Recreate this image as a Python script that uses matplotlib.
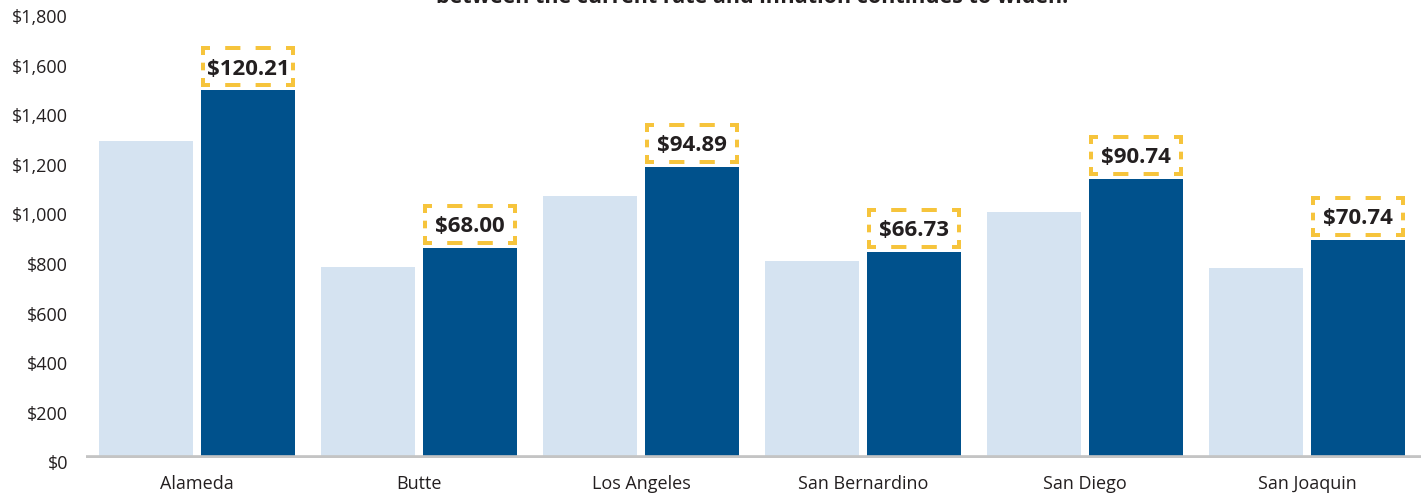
import matplotlib
matplotlib.use("Agg")
import matplotlib.pyplot as plt
from matplotlib.lines import Line2D
from matplotlib.transforms import ScaledTranslation
import numpy as np

counties = ["Alameda", "Butte", "Los Angeles", "San Bernardino", "San Diego", "San Joaquin"]
current = [1276, 769, 1054, 792, 991, 765]
proposed = [1481, 846, 1172, 829, 1123, 877]
gap_labels = ["$120.21", "$68.00", "$94.89", "$66.73", "$90.74", "$70.74"]
yticks = [0, 200, 400, 600, 800, 1000, 1200, 1400, 1600, 1800]

LIGHT = "#d5e3f1"
DARK = "#00518c"
GOLD = "#f6c43c"
GRAY = "#c4c4c4"
TEXT = "#231f20"

plt.rcParams["font.family"] = ["Open Sans", "DejaVu Sans"]
plt.rcParams["lines.scale_dashes"] = False

W, H = 1421, 495
fig = plt.figure(figsize=(W / 100, H / 100), dpi=100)
ax = fig.add_axes([86 / W, 37.5 / H, 1335 / W, 446.6 / H])

x = np.arange(len(counties))
off = 0.2297
bw = 0.4234
ax.bar(x - off, current, bw, color=LIGHT, zorder=2)
ax.bar(x + off, proposed, bw, color=DARK, zorder=2)
ax.axhline(0, color=GRAY, lw=4.8, zorder=3)

ax.set_xlim(-0.5, 5.513)
ax.set_ylim(0, 1800)
ax.set_xticks(x)
ax.set_xticklabels(counties)
ax.set_yticks(yticks)
ax.set_yticklabels(["${:,}".format(v) for v in yticks])
ax.tick_params(length=0, labelsize=13, colors=TEXT)
ax.tick_params(axis="y", pad=13)
ax.tick_params(axis="x", pad=12.5)
for s in ax.spines.values():
    s.set_visible(False)
for lab in ax.get_yticklabels():
    lab.set_transform(lab.get_transform() + ScaledTranslation(0, -5 / 100, fig.dpi_scale_trans))

fig.canvas.draw()
to_px = ax.transData.transform
lw_px = 4.0
box_h = 41
box_gap = 3


def dashed_side(p0, p1):
    # corner piece, evenly spaced gaps/dashes, corner piece
    L = np.hypot(*(np.array(p1) - np.array(p0)))
    end = 9.0
    k = max(1, int(round((L - 2 * end) / 15.0)))
    if k % 2 == 0:
        k += 1
    seg = (L - 2 * end) / k
    pat = [end] + [seg] * k + [end, 200]
    pat = [p * 0.72 for p in pat]
    ln = Line2D([p0[0], p1[0]], [p0[1], p1[1]], transform=None, color=GOLD,
                lw=lw_px * 0.72, solid_capstyle="butt", dash_capstyle="butt",
                linestyle=(0, pat), zorder=4)
    fig.add_artist(ln)


for i, v in enumerate(proposed):
    xl, yb = to_px((i + off - bw / 2, v))
    xr, _ = to_px((i + off + bw / 2, v))
    h = lw_px / 2
    left, right = xl + h, xr - h
    bottom = yb + box_gap + h
    top = yb + box_gap + box_h - h
    dashed_side((left - h, top), (right + h, top))
    dashed_side((left - h, bottom), (right + h, bottom))
    dashed_side((left, top + h), (left, bottom - h))
    dashed_side((right, top + h), (right, bottom - h))
    cx = (xl + xr) / 2
    cy = yb + box_gap + box_h / 2
    fig.text(cx / W, cy / H, gap_labels[i], ha="center", va="center_baseline",
             fontsize=16, fontweight="bold", color=TEXT)

fig.text(752 / W, 1 - 3 / H,
         "between the current rate and inflation continues to widen.",
         ha="center", va="baseline", fontsize=15.5, fontweight="bold", color=TEXT)

fig.savefig("out.png", dpi=100)
